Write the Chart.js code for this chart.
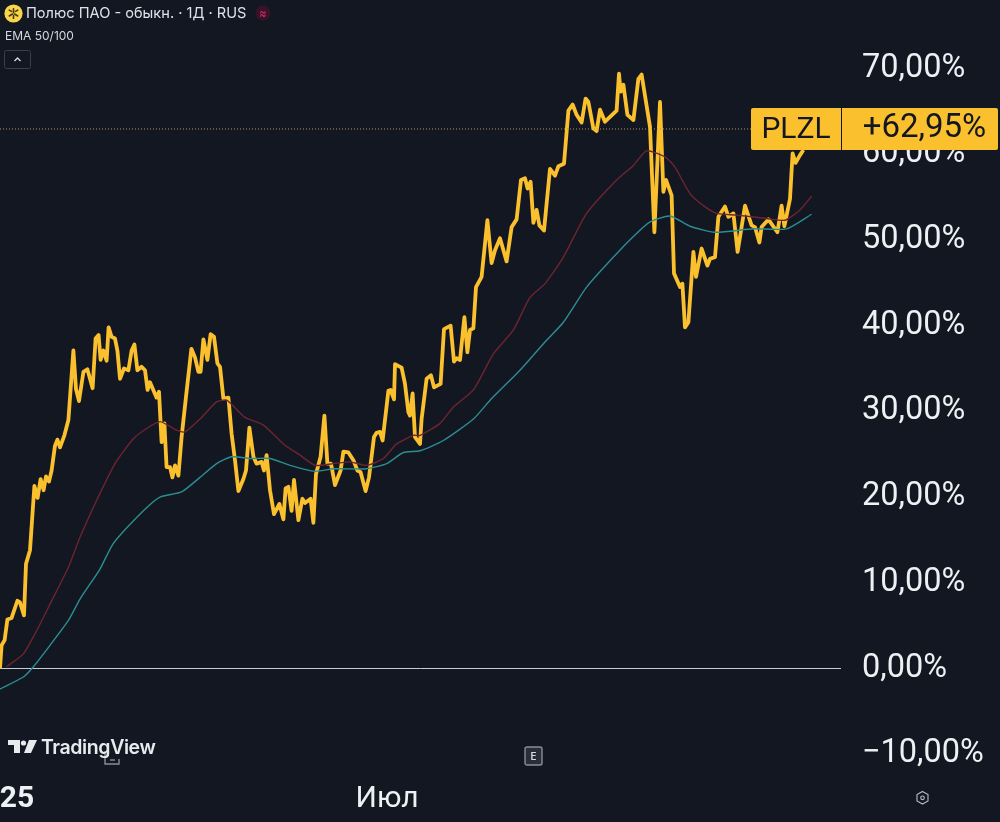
<!DOCTYPE html>
<html><head><meta charset="utf-8">
<style>
html,body{margin:0;padding:0;background:#131722;width:1000px;height:822px;overflow:hidden;font-family:Inter,"Noto Sans",sans-serif}
#wrap{position:relative;width:1000px;height:822px}
canvas{position:absolute;left:0;top:0}
.o{position:absolute;white-space:nowrap}
</style>
<script src="https://cdn.jsdelivr.net/npm/chart.js@4/dist/chart.umd.min.js"></script>
</head><body><div id="wrap"><canvas id="c" width="1000" height="822"></canvas>
<svg class="o" style="left:4px;top:4px" width="19" height="19" viewBox="0 0 18 18"><circle cx="9" cy="9" r="8.6" fill="#f9d648"/><g stroke="#4a3c10" stroke-width="1.6" stroke-linecap="round"><path d="M9 8V4.5M10 9.5l3 1.8M8 9.5l-3 1.8M7 7L5 5.8M11 7l2-1.2M9 11v2.500"/></g></svg>
<div class="o" style="left:26px;top:4px;font-size:14.6px;line-height:18px;color:#dfe2e8">Полюс ПАО - обыкн. · 1Д · RUS</div>
<svg class="o" style="left:255px;top:5px" width="16" height="16"><circle cx="8" cy="8" r="7.5" fill="#3a1228"/><text x="8" y="12" font-size="11" font-family="Inter" text-anchor="middle" fill="#d8326e">≈</text></svg>
<div class="o" style="left:5px;top:28px;font-size:12px;line-height:15px;color:#d5d8de">EMA 50/100</div>
<svg class="o" style="left:4px;top:50px" width="28" height="19"><rect x=".5" y=".5" width="26" height="18" rx="2" fill="none" stroke="#3a3e49"/><path d="M10.500 11l3-3 3 3" fill="none" stroke="#d5d8de" stroke-width="1.4"/></svg>
<svg class="o" style="left:104px;top:750px" width="18" height="16"><path d="M1 1v13h14v-5" fill="none" stroke="#8a8e98" stroke-width="1.4"/><path d="M6 10h5" stroke="#8a8e98" stroke-width="1.4"/></svg>
<svg class="o" style="left:8px;top:739px" width="30" height="16" viewBox="0 0 30 16"><path d="M0 1h12v13H6V6H0zM21 1h8l-6 13h-7z" fill="#e8eaee"/><circle cx="15.500" cy="4" r="2.600" fill="#e8eaee"/></svg>
<div class="o" style="left:41px;top:736px;font-size:19.5px;line-height:22px;font-weight:600;letter-spacing:-.4px;color:#e8eaee">TradingView</div>
<svg class="o" style="left:524px;top:746px" width="20" height="20"><rect x="1" y="1" width="17" height="18" rx="2" fill="#2a2e39" stroke="#8a8e98" stroke-width="1.4"/><text x="9.500" y="14" font-size="10" font-family="Inter" font-weight="600" text-anchor="middle" fill="#d5d8de">E</text></svg>
<svg class="o" style="left:915px;top:790px" width="15" height="16"><path d="M7.500 1.500l5.500 3v6.500l-5.500 3-5.500-3V4.500z" fill="none" stroke="#b8bcc6" stroke-width="1.100"/><circle cx="7.500" cy="7.800" r="1.800" fill="none" stroke="#b8bcc6" stroke-width="1.100"/></svg>
</div>
<script>
const yTickValues=[-10,0,10,20,30,40,50,60,70];
const xTicks=[{day:8.5,label:"25"},{day:193.5,label:"Июл"}];
const symbol="PLZL";
const lastValue=62.95;
const lastLabel="+62,95%";
const pricePoints=[[0,0],[.8,2.7],[2.3,3.3],[3.7,5.7],[5.8,5.9],[8.7,7.9],[10,7.7],[12,6.2],[13,12.2],[15,13.8],[17.2,21.3],[18.8,19.9],[20.3,22.1],[21.8,20.8],[23,22.4],[24.5,21.8],[25.8,23.1],[27.5,26],[28.7,26.7],[30,25.8],[32.2,27.2],[34.2,29],[36.7,37.1],[38,32.6],[39.5,31.2],[41.7,34.6],[43.7,34.9],[46.3,32.7],[47.8,38.5],[49.3,38.9],[50.3,36],[51.7,37.1],[53.3,35.9],[54.3,39.8],[55.8,38.7],[57.5,38.5],[58.7,37.1],[60,33.8],[62,35],[64.2,34.8],[65.8,37.1],[67.2,37.8],[68.7,34.8],[70.8,35.2],[72.5,34.8],[73.8,32.5],[75,33.4],[78.3,31.6],[79.5,32.3],[80.8,26.4],[82.2,28.6],[83.3,23.5],[85,23.5],[86.2,22.3],[87.5,23.7],[89.2,22.5],[90.8,27],[93,31.7],[95.7,37.3],[97.5,36.3],[99.2,34.6],[100.3,34.6],[101.7,38.4],[103.7,36],[105.3,39],[107,38.7],[108.7,35.6],[110,35.2],[111.7,31.5],[114.2,31.6],[115.8,27.4],[117.5,24.3],[119.2,20.7],[121.7,22.1],[123,23.1],[124.7,28.1],[126.7,24.7],[128.3,23.9],[130.8,24.1],[132,23.1],[133.3,24.9],[135,20.8],[137,18],[139.7,19.2],[141.7,17.4],[142.8,21],[144.2,21.2],[145.8,18.4],[147,22],[149.2,17.3],[151.2,19.8],[152.5,19.3],[155.3,19.8],[156.7,17],[158,22.7],[160.3,24.7],[162.2,29.5],[163.7,23.9],[165.5,23.9],[167.5,21.4],[170.3,23.1],[171.7,25.3],[174.2,25.2],[176.7,24.3],[178.7,23.1],[180.3,22.9],[182.8,20.7],[184.5,22.3],[187,27],[188.3,27.5],[190,27.6],[191.3,26.6],[194.2,32.4],[195.3,32.5],[197,31.4],[197.5,35.5],[200.8,35.1],[202.5,33.2],[204.2,29.9],[205,29.5],[206.3,32.1],[207.5,27],[210,26.2],[210.8,29.1],[213.3,33.8],[215.5,34.2],[217,32.8],[220.3,33.2],[222,39.6],[225.3,40],[227,35.8],[228.3,36.2],[230,36],[232.2,41],[233.7,36.9],[235,39.5],[236.7,39.7],[238,44.5],[240.8,45.7],[243.7,52.3],[245.8,47.3],[247.5,48.8],[250,50.2],[253.3,47.5],[255.8,51.5],[258.3,52.4],[260.5,57],[262.5,57.2],[263.8,56],[265.3,56.8],[266.7,52],[268.3,53.5],[269.7,51.7],[272,51.1],[275,58.3],[277.5,57.5],[279.2,58.6],[282,58.9],[284.2,65.1],[286.3,65.8],[288.3,64.6],[290.8,63.7],[292.8,66.5],[294.2,66.1],[296.7,63],[298.3,62.7],[300,65.2],[302.5,63.8],[308.3,65.1],[309.5,69.4],[310.3,67.3],[311.7,68.1],[313.7,64.6],[316.7,64],[319.2,68.8],[320.8,69.3],[325,63.2],[327.2,50.9],[330,66.1],[331.7,55.6],[333,57],[335.8,55.2],[337,46.1],[340,44.5],[341.2,44.9],[342.5,39.8],[344.2,40.4],[346.7,48.6],[348,45.7],[350.8,49],[353.7,47],[355,47.8],[357.5,48],[359.2,52.7],[362.5,53.9],[364.2,52.7],[366.7,53.1],[368.8,48.6],[372.5,54],[375.8,51.7],[377.5,51.5],[379.7,49.7],[380.8,51.5],[384.2,52.4],[388.7,50.9],[390.8,54],[392.2,51.6],[395,54.8],[396.3,60.1],[397.8,59],[400,59.9],[401.7,60.5]];
const ema50Points=[[3.3,.2],[11.7,1.7],[18.3,4.4],[25,7.5],[34.2,11.8],[40,15.3],[48.3,19.6],[57.5,23.9],[66.7,26.8],[73.3,28],[80,28.8],[88.3,27.8],[92.5,27.6],[100,29.1],[108.3,31.1],[113.3,31.3],[122.5,29.3],[131.7,28.4],[141.7,26.2],[150,24.9],[157.5,23.7],[166.7,23.9],[175,24.1],[183.3,23.7],[191.7,24.5],[198.3,26.2],[206.7,27.2],[210,27.2],[220,28.6],[226.7,30.5],[236.7,32.5],[246.7,36.7],[256.7,39.5],[265,43.3],[272.5,44.9],[281.7,48],[293.3,53.1],[308.3,57],[316.7,58.7],[323.3,60.4],[332.5,59.7],[337.5,58.5],[345,55.4],[351.7,54],[358.3,53.1],[368.3,52.9],[383.3,52.5],[392.5,52.3],[400,53.5],[405.8,55.1]];
const ema100Points=[[0,-2.4],[11.7,-1],[16.7,.2],[25,2.7],[34.2,5.6],[40,8.1],[50,11.6],[56.7,14.6],[71.7,18.4],[80,20],[90.8,20.6],[100,22.3],[108.3,23.9],[115.8,24.7],[125,24.5],[135,24.5],[145,23.7],[157.5,23],[166.7,23.3],[183.3,23.3],[193.3,23.9],[201.7,25.2],[210,25.4],[221.7,26.6],[236.7,29.1],[245.8,31.5],[260,34.8],[272.5,38.1],[281.7,40.4],[293.3,44.5],[308.3,48.4],[316.7,50.4],[325,52.1],[335,52.8],[345,51.6],[357.5,50.9],[376.7,51.3],[393.3,51.3],[405.8,53]];
const toXY=a=>a.map(p=>({x:p[0],y:p[1]}));
const goldC="#FBC02D",redC="#6e2431",tealC="#2b8e90",textC="#eef0f3";
const priceTag={id:"priceTag",afterDraw(ch){
  const c=ch.ctx,y=ch.scales.y.getPixelForValue(lastValue),t=Math.round(y-21);
  c.save();c.fillStyle=goldC;
  c.beginPath();c.roundRect(751,t,90,42,[2,0,0,2]);c.fill();
  c.beginPath();c.roundRect(842,t,156,42,[0,2,2,0]);c.fill();
  c.fillStyle="#131722";c.textBaseline="middle";c.textAlign="center";
  c.font="400 30px Roboto";c.fillText(symbol,796,t+22);
  c.font="400 33px Roboto";c.fillText(lastLabel,924.5,t+21);c.restore();
}};
new Chart(document.getElementById("c"),{type:"line",plugins:[priceTag],
 data:{datasets:[
  {data:[{x:0,y:lastValue},{x:375.5,y:lastValue}],borderColor:"#b59a55",borderWidth:1,borderDash:[1,2],pointRadius:0},
  {data:toXY(ema50Points),borderColor:redC,borderWidth:1.4,pointRadius:0,tension:.2},
  {data:toXY(ema100Points),borderColor:tealC,borderWidth:1.4,pointRadius:0,tension:.2},
  {data:toXY(pricePoints),borderColor:goldC,borderWidth:3.8,pointRadius:0,tension:0,borderJoinStyle:"round"}
 ]},
 options:{responsive:false,animation:false,devicePixelRatio:1,
  layout:{padding:0},
  plugins:{legend:{display:false},tooltip:{enabled:false}},
  scales:{
   x:{type:"linear",min:0,max:420.5,
     afterBuildTicks:a=>{a.ticks=xTicks.map(t=>({value:t.day}))},
     afterFit:a=>{a.height=49;a.paddingLeft=0;a.paddingRight=0},
     grid:{display:false},border:{display:false},
     ticks:{autoSkip:false,maxRotation:0,padding:0,color:textC,
       font:c=>({family:"Roboto",size:30,weight:c.index===0?"700":"400"}),
       callback:(v)=>{const t=xTicks.find(t=>t.day===v);return t?t.label:""}}},
   y:{position:"right",min:-12.2,max:78,
     afterBuildTicks:a=>{a.ticks=yTickValues.map(v=>({value:v}))},
     afterFit:a=>{a.width=159;a.paddingTop=0;a.paddingBottom=0},
     grid:{drawTicks:false,lineWidth:1,color:c=>c.tick&&c.tick.value===0?"#c9ccd3":"rgba(0,0,0,0)"},
     border:{display:false},
     ticks:{padding:21,color:textC,font:{family:"Roboto",size:32.5,weight:"400"},
       callback:v=>(v<0?"−":"")+Math.abs(v)+",00%"}}
  }}});
</script></body></html>
